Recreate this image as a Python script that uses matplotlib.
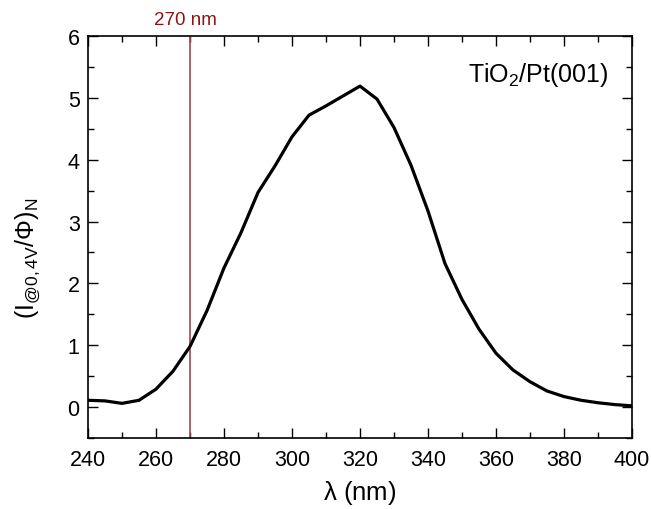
import matplotlib
matplotlib.use("Agg")
import matplotlib.pyplot as plt
from matplotlib.ticker import MultipleLocator

plt.rcParams['font.family'] = ['Liberation Sans', 'DejaVu Sans']
plt.rcParams['mathtext.fontset'] = 'custom'
plt.rcParams['mathtext.rm'] = 'Liberation Sans'
plt.rcParams['mathtext.it'] = 'Liberation Sans'
plt.rcParams['mathtext.bf'] = 'Liberation Sans:bold'

wavelength = [240, 245, 250, 255, 260, 265, 270, 275, 280, 285, 290, 295, 300,
              305, 310, 315, 320, 325, 330, 335, 340, 345, 350, 355, 360, 365,
              370, 375, 380, 385, 390, 395, 400]
intensity = [0.11, 0.10, 0.06, 0.11, 0.29, 0.58, 0.98, 1.56, 2.25, 2.82, 3.47,
             3.90, 4.37, 4.72, 4.87, 5.03, 5.19, 4.98, 4.52, 3.91, 3.17, 2.32,
             1.74, 1.26, 0.87, 0.60, 0.41, 0.26, 0.17, 0.11, 0.07, 0.04, 0.02]
marker_wl = 270

fig = plt.figure(figsize=(6.51, 5.10), dpi=100)
ax = fig.add_axes([88/651, 1 - 439/510, (632-88)/651, (439-37)/510])

ax.plot(wavelength, intensity, color='black', lw=2.3, zorder=3)
ax.axvline(marker_wl, color='#A04850', lw=1.2, zorder=2)
ax.text(268.8, 6.27, '270 nm', color='#8C1414', fontsize=13.5, ha='center', va='center')
ax.text(0.957, 0.94, r'TiO$_2$/Pt(001)', transform=ax.transAxes, fontsize=18,
        ha='right', va='top')

ax.set_xlim(240, 400)
ax.set_ylim(-0.5, 6)
ax.xaxis.set_major_locator(MultipleLocator(20))
ax.xaxis.set_minor_locator(MultipleLocator(10))
ax.yaxis.set_major_locator(MultipleLocator(1))
ax.yaxis.set_minor_locator(MultipleLocator(0.5))
ax.tick_params(which='both', direction='in', top=True, right=True,
               labeltop=False, labelright=False, width=1)
ax.tick_params(which='major', length=7, labelsize=15.5)
ax.tick_params(axis='x', which='major', pad=8)
ax.tick_params(axis='y', which='major', pad=6)
ax.tick_params(which='minor', length=4)
for s in ax.spines.values():
    s.set_linewidth(1.2)

ax.set_xlabel(r'$\lambda$ (nm)', fontsize=18.5)
ax.xaxis.set_label_coords(0.5, -0.1)
ax.set_ylabel(r'$\mathregular{(I_{@0,4V}/\Phi)_N}$', fontsize=18)
ax.yaxis.set_label_coords(-0.085, 0.45)

fig.savefig('out.png', dpi=100)
